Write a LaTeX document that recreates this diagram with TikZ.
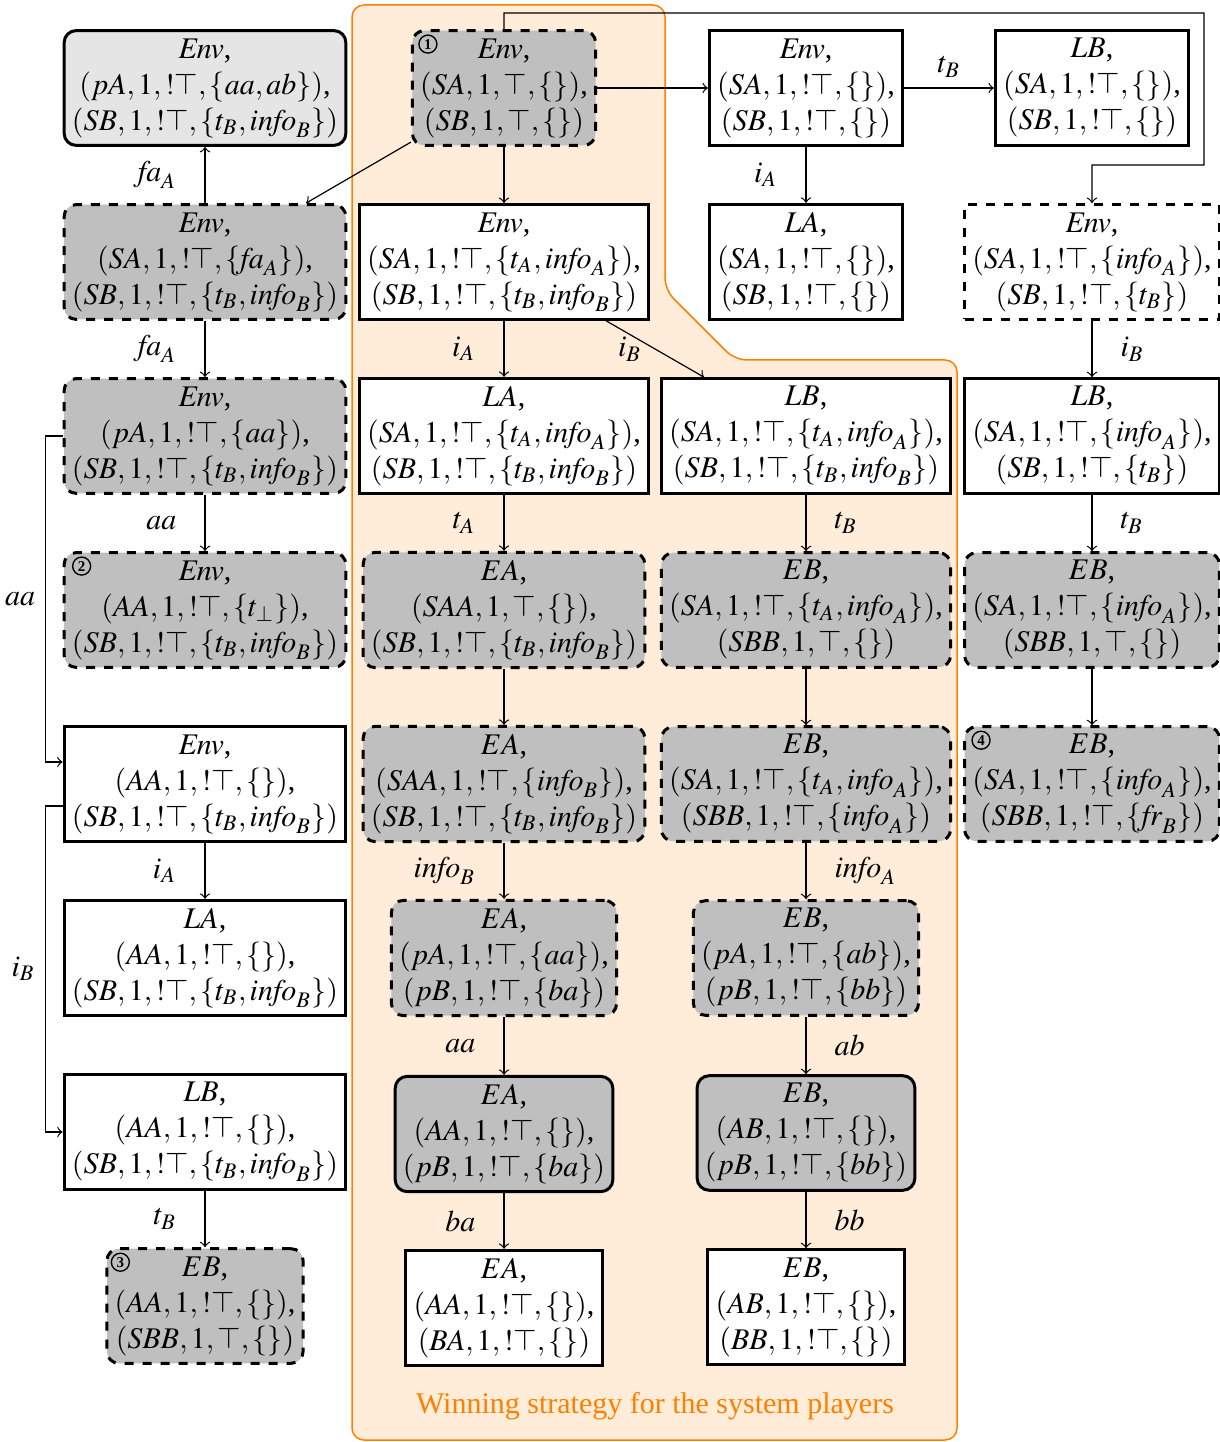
\documentclass[tikz,border=0pt]{standalone}
\usepackage{mathptmx}
\usepackage[no-math]{fontspec}
\setmainfont{Liberation Serif}
\usetikzlibrary{calc}
\tikzset{
  st/.style={draw, line width=1pt, align=center, inner sep=2.6pt},
  wbox/.style={st, fill=white},
  gdash/.style={st, fill=gray!50, dashed, rounded corners=4pt},
  gsolid/.style={st, fill=gray!50, rounded corners=4pt},
  lsolid/.style={st, fill=gray!20, rounded corners=4pt},
  wdash/.style={st, fill=white, dashed},
  conn/.style={->, line width=0.4pt},
  num/.style={circle, draw, line width=0.45pt, inner sep=0pt, minimum size=6pt, font=\fontsize{5}{5}\selectfont\bfseries},
  region/.style={fill=orange!15, draw=orange, line width=0.5pt, rounded corners=4pt}
}
\newcommand{\ntop}{!\top}
\newcommand{\Env}{\mathit{Env}}
\newcommand{\info}{\mathit{info}}
\newcommand{\fa}{\mathit{fa}}
\newcommand{\fr}{\mathit{fr}}
\begin{document}
\begin{tikzpicture}[x=0.33333pt, y=-0.33333pt]
\useasboundingbox (0,0) rectangle (1219,1442);
% background region
\path[region] (352,5) -- (665,5) -- (665,290) -- (735,360) -- (957,360) -- (957,1440) -- (352,1440) -- cycle;
\node[text=orange] (wintxt) at (655,1406) {Winning strategy for the system players};

% column 1
\node[lsolid] (N0) at (205,88) {$\Env$,\\$(pA,1,\ntop,\{aa,ab\})$,\\$(SB,1,\ntop,\{t_B,\info_B\})$};
\node[gdash] (N1) at (205,262) {$\Env$,\\$(SA,1,\ntop,\{\fa_A\})$,\\$(SB,1,\ntop,\{t_B,\info_B\})$};
\node[gdash] (N2) at (205,436) {$\Env$,\\$(pA,1,\ntop,\{aa\})$,\\$(SB,1,\ntop,\{t_B,\info_B\})$};
\node[gdash] (N3) at (205,610) {$\Env$,\\$(AA,1,\ntop,\{t_\bot\})$,\\$(SB,1,\ntop,\{t_B,\info_B\})$};
\node[wbox] (N4) at (205,784) {$\Env$,\\$(AA,1,\ntop,\{\})$,\\$(SB,1,\ntop,\{t_B,\info_B\})$};
\node[wbox] (N5) at (205,958) {$LA$,\\$(AA,1,\ntop,\{\})$,\\$(SB,1,\ntop,\{t_B,\info_B\})$};
\node[wbox] (N6) at (205,1132) {$LB$,\\$(AA,1,\ntop,\{\})$,\\$(SB,1,\ntop,\{t_B,\info_B\})$};
\node[gdash] (N7) at (205,1306) {$EB$,\\$(AA,1,\ntop,\{\})$,\\$(SBB,1,\top,\{\})$};

% column 2
\node[gdash] (M0) at (504,88) {$\Env$,\\$(SA,1,\top,\{\})$,\\$(SB,1,\top,\{\})$};
\node[wbox] (M1) at (504,262) {$\Env$,\\$(SA,1,\ntop,\{t_A,\info_A\})$,\\$(SB,1,\ntop,\{t_B,\info_B\})$};
\node[wbox] (M2) at (504,436) {$LA$,\\$(SA,1,\ntop,\{t_A,\info_A\})$,\\$(SB,1,\ntop,\{t_B,\info_B\})$};
\node[gdash] (M3) at (504,610) {$EA$,\\$(SAA,1,\top,\{\})$,\\$(SB,1,\ntop,\{t_B,\info_B\})$};
\node[gdash] (M4) at (504,784) {$EA$,\\$(SAA,1,\ntop,\{\info_B\})$,\\$(SB,1,\ntop,\{t_B,\info_B\})$};
\node[gdash] (M5) at (504,958) {$EA$,\\$(pA,1,\ntop,\{aa\})$,\\$(pB,1,\ntop,\{ba\})$};
\node[gsolid] (M6) at (504,1134) {$EA$,\\$(AA,1,\ntop,\{\})$,\\$(pB,1,\ntop,\{ba\})$};
\node[wbox] (M7) at (504,1308) {$EA$,\\$(AA,1,\ntop,\{\})$,\\$(BA,1,\ntop,\{\})$};

% column 3
\node[wbox] (R0) at (806,88) {$\Env$,\\$(SA,1,\ntop,\{\})$,\\$(SB,1,\ntop,\{\})$};
\node[wbox] (R1) at (806,262) {$LA$,\\$(SA,1,\ntop,\{\})$,\\$(SB,1,\ntop,\{\})$};
\node[wbox] (R2) at (806,436) {$LB$,\\$(SA,1,\ntop,\{t_A,\info_A\})$,\\$(SB,1,\ntop,\{t_B,\info_B\})$};
\node[gdash] (R3) at (806,610) {$EB$,\\$(SA,1,\ntop,\{t_A,\info_A\})$,\\$(SBB,1,\top,\{\})$};
\node[gdash] (R4) at (806,784) {$EB$,\\$(SA,1,\ntop,\{t_A,\info_A\})$,\\$(SBB,1,\ntop,\{\info_A\})$};
\node[gdash] (R5) at (806,958) {$EB$,\\$(pA,1,\ntop,\{ab\})$,\\$(pB,1,\ntop,\{bb\})$};
\node[gsolid] (R6) at (806,1133) {$EB$,\\$(AB,1,\ntop,\{\})$,\\$(pB,1,\ntop,\{bb\})$};
\node[wbox] (R7) at (806,1307) {$EB$,\\$(AB,1,\ntop,\{\})$,\\$(BB,1,\ntop,\{\})$};

% column 4
\node[wbox] (Q0) at (1092,88) {$LB$,\\$(SA,1,\ntop,\{\})$,\\$(SB,1,\ntop,\{\})$};
\node[wdash] (Q1) at (1092,262) {$\Env$,\\$(SA,1,\ntop,\{\info_A\})$,\\$(SB,1,\ntop,\{t_B\})$};
\node[wbox] (Q2) at (1092,436) {$LB$,\\$(SA,1,\ntop,\{\info_A\})$,\\$(SB,1,\ntop,\{t_B\})$};
\node[gdash] (Q3) at (1092,610) {$EB$,\\$(SA,1,\ntop,\{\info_A\})$,\\$(SBB,1,\top,\{\})$};
\node[gdash] (Q4) at (1092,784) {$EB$,\\$(SA,1,\ntop,\{\info_A\})$,\\$(SBB,1,\ntop,\{\fr_B\})$};

% circled numbers
\node[num] (c1) at ($(M0.north west)+(17,15)$) {1};
\node[num] (c2) at ($(N3.north west)+(19,15)$) {2};
\node[num] (c3) at ($(N7.north west)+(15,15)$) {3};
\node[num] (c4) at ($(Q4.north west)+(18,15)$) {4};

% column 1 edges
\draw[conn] (N1) -- node[left=6pt]{$\fa_A$} (N0);
\draw[conn] (N1) -- node[left=6pt]{$\fa_A$} (N2);
\draw[conn] (N2) -- node[left=6pt]{$aa$} (N3);
\draw[conn] (N4) -- node[left=6pt]{$i_A$} (N5);
\draw[conn] (N6) -- node[left=6pt]{$t_B$} (N7);
\draw[conn] (N2.west) -- ++(-17,0) -- node[left]{$aa$} ($(N4.west)+(-17,-22)$) -- ($(N4.west)+(0,-22)$);
\draw[conn] ($(N4.west)+(0,22)$) -- ($(N4.west)+(-17,22)$) -- node[left]{$i_B$} ($(N6.west)+(-17,0)$) -- (N6.west);

% column 2 edges
\draw[conn] (M0) -- (R0);
\draw[conn] (M0) -- (N1);
\draw[conn] (M0) -- (M1);
\coordinate (t1) at ($(M0.north)+(0,-16)$);
\coordinate (t2) at (1204,13);
\coordinate (t3) at (1204,165);
\coordinate (t4) at ($(Q1.north)+(0,-38)$);
\draw[conn] (M0.north) -- (t1) -- (t2) -- (t3) -- (t4) -- (Q1.north);
\draw[conn] (M1) -- node[left=6pt]{$i_A$} (M2);
\draw[conn] (M1) -- node[left=1pt]{$i_B$} (R2);
\draw[conn] (M2) -- node[left=6pt]{$t_A$} (M3);
\draw[conn] (M3) -- (M4);
\draw[conn] (M4) -- node[left=6pt]{$\info_B$} (M5);
\draw[conn] (M5) -- node[left=6pt]{$aa$} (M6);
\draw[conn] (M6) -- node[left=6pt]{$ba$} (M7);

% column 3 edges
\draw[conn] (R0) -- node[above]{$t_B$} (Q0);
\draw[conn] (R0) -- node[left=6pt]{$i_A$} (R1);
\draw[conn] (R2) -- node[right=6pt]{$t_B$} (R3);
\draw[conn] (R3) -- (R4);
\draw[conn] (R4) -- node[right=6pt]{$\info_A$} (R5);
\draw[conn] (R5) -- node[right=6pt]{$ab$} (R6);
\draw[conn] (R6) -- node[right=6pt]{$bb$} (R7);

% column 4 edges
\draw[conn] (Q1) -- node[right=6pt]{$i_B$} (Q2);
\draw[conn] (Q2) -- node[right=6pt]{$t_B$} (Q3);
\draw[conn] (Q3) -- (Q4);
\end{tikzpicture}
\end{document}
